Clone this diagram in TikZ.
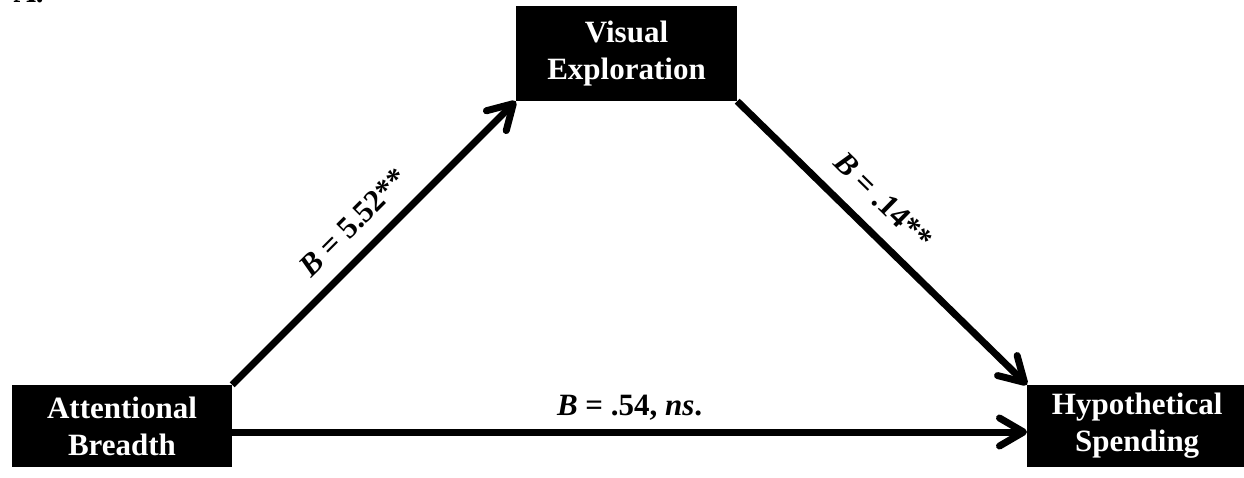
\documentclass[tikz,border=0pt]{standalone}
\usepackage{fontspec}
\setmainfont{Liberation Serif}
\usetikzlibrary{arrows.meta,positioning}
\newcommand{\lblfont}{\fontsize{31}{37}\selectfont\bfseries}
\tikzset{>={Straight Barb[length=24pt,width=28pt,round]},box/.style={fill=black,text=white,align=center,font=\lblfont,inner sep=0pt},arr/.style={->,line width=7pt},coef/.style={font=\lblfont}}

\begin{document}
\begin{tikzpicture}[x=1pt,y=1pt]
\useasboundingbox (0,0) rectangle (1244,477);
\node[font=\lblfont,anchor=base west] (lab) at (10,474) {A.};
\node[box,minimum width=220pt,minimum height=82pt] (ab) at (122,51) {Attentional\\Breadth};
\node[box,minimum width=221pt,minimum height=95pt] (ve) at (626.5,423.5) {Visual\\Exploration};
\node[box,minimum width=220pt,minimum height=82pt,anchor=west] (hs) at (1027,51) {Hypothetical\\Spending};
\draw[arr] (ab.north east) -- node[coef,sloped,above=12pt] {\textit{B} = 5.52**} (ve.south west);
\draw[arr] (ve.south east) -- node[coef,sloped,above=14pt,pos=.43] {\textit{B} = .14**} (hs.north west);
\draw[arr] ([yshift=-6pt]ab.east) -- node[coef,above=5pt] {\textit{B} = .54, \textit{ns}.} ([yshift=-6pt]hs.west);
\end{tikzpicture}
\end{document}
